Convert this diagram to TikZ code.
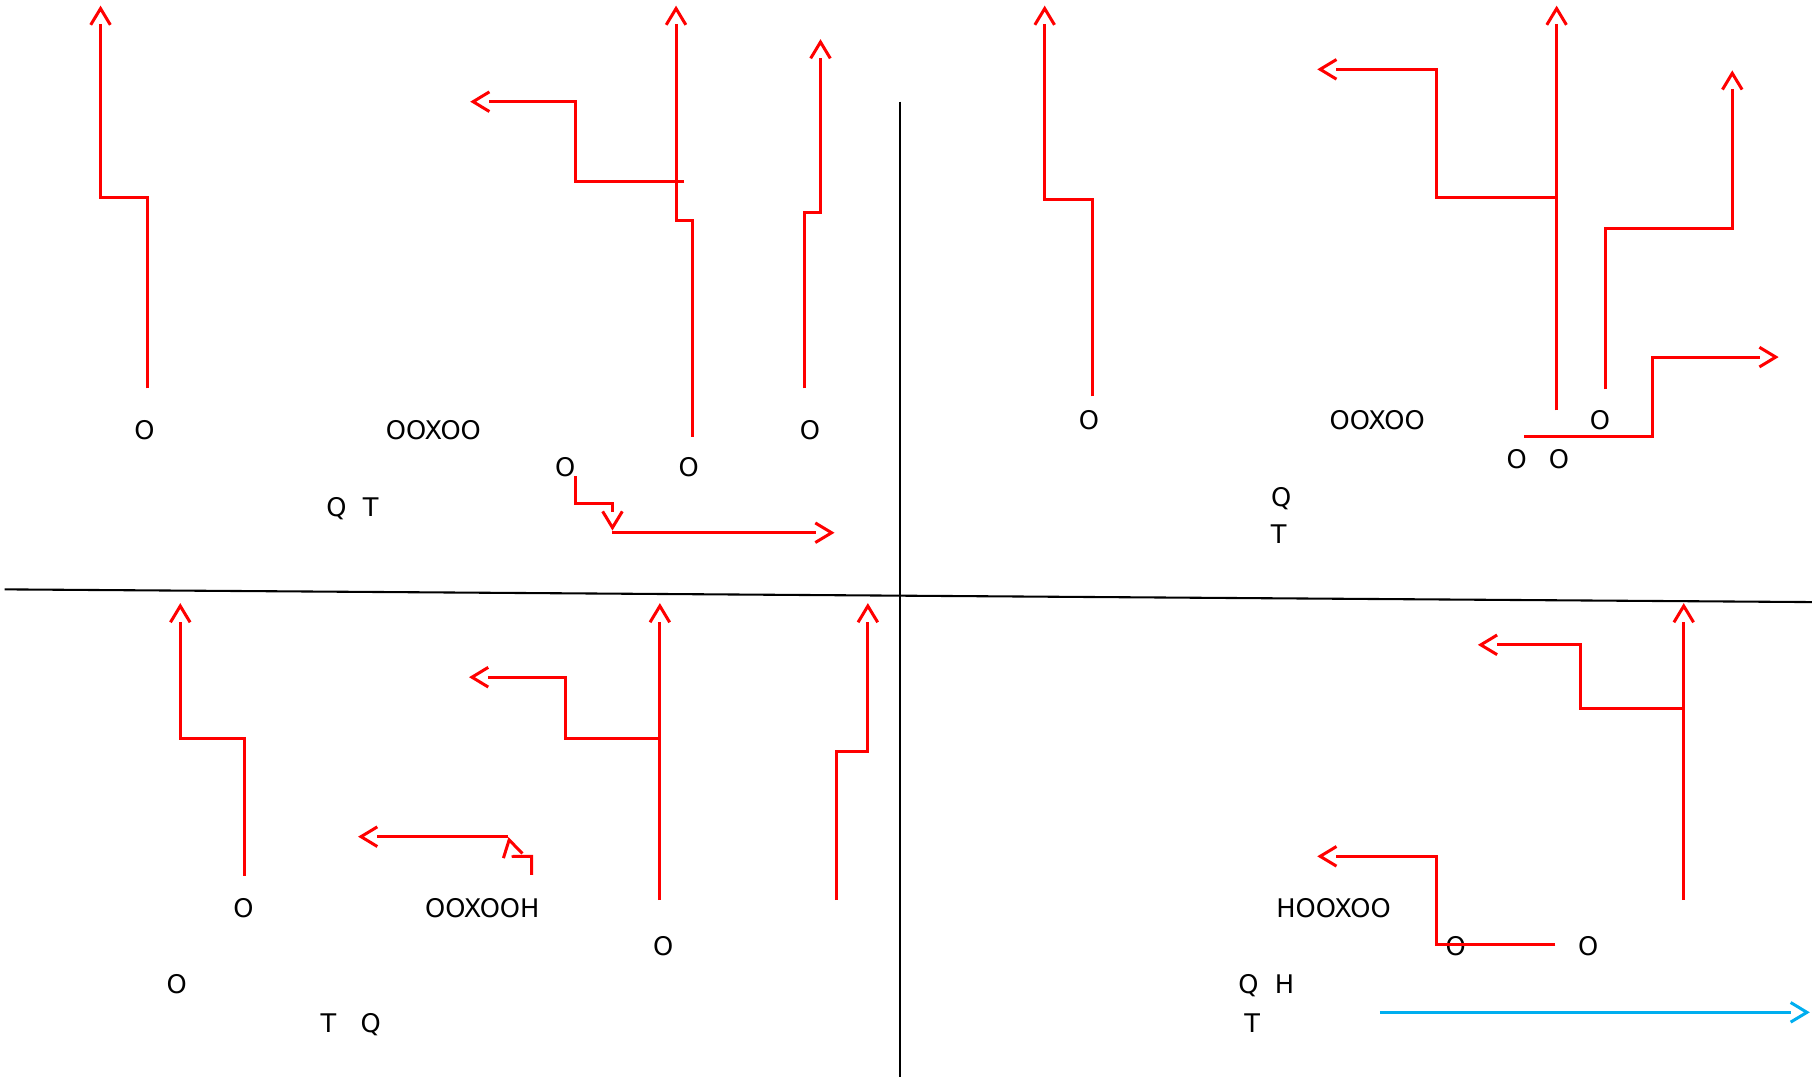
\documentclass[tikz,border=0pt]{standalone}
\usepackage{fontspec}
\setmainfont{DejaVu Sans}
\usetikzlibrary{arrows.meta,decorations.markings}
\definecolor{arrowblue}{HTML}{00AEEF}
\begin{document}
\begin{tikzpicture}[x=1pt,y=-1pt,
  redline/.style={draw=red, line width=2.6pt, line join=miter},
  vtip/.style={shorten >=16pt,
    postaction={decorate, decoration={markings, mark=at position 1 with {
      \draw[#1, line width=2.6pt, line join=miter, line cap=butt, shorten >=0pt, shorten <=0pt]
        (-16.5pt,8.5pt) -- (-2.4pt,0pt) -- (-16.5pt,-8.5pt);}}}},
  redarrow/.style={redline, vtip=red},
  bluearrow/.style={draw=arrowblue, line width=2.6pt, vtip=arrowblue},
  blackline/.style={draw=black, line width=1.8pt},
  lbl/.style={font=\fontsize{22.2}{26}\selectfont, inner sep=0pt, anchor=base},
]
\useasboundingbox (0,0) rectangle (1568,932);

% axes
\coordinate (hL) at (4,510);
\coordinate (hR) at (1568,521);
\coordinate (vT) at (779,88);
\coordinate (vB) at (779,932);
\draw[blackline] (hL) -- (hR);
\draw[blackline] (vT) -- (vB);

% ---------- labels ----------
% top-left
\node[lbl] (t1) at (125,380.5) {O};
\node[lbl] (t2) at (375,380.5) {OOXOO};
\node[lbl] (t3) at (701,380.5) {O};
\node[lbl] (t4) at (489,412.7) {O};
\node[lbl] (t5) at (596,412.7) {O};
\node[lbl] (t6) at (305,446.8) {Q~~T};
% top-right
\node[lbl] (u1) at (942.4,371.6) {O};
\node[lbl] (u2) at (1191.7,371.6) {OOXOO};
\node[lbl] (u3) at (1384.5,371.6) {O};
\node[lbl] (u4) at (1312.4,405.4) {O};
\node[lbl] (u5) at (1349,405.4) {O};
\node[lbl] (u6) at (1108.6,438.5) {Q};
\node[lbl] (u7) at (1106.6,470.7) {T};
% bottom-left
\node[lbl] (v1) at (210.6,794) {O};
\node[lbl] (v2) at (417.3,794) {OOXOOH};
\node[lbl] (v3) at (573.8,826.7) {O};
\node[lbl] (v4) at (153,859.5) {O};
\node[lbl] (v5) at (303.5,893.6) {T~~~Q};
% bottom-right
\node[lbl] (w1) at (1154,794) {HOOXOO};
\node[lbl] (w2) at (1259.6,826.7) {O};
\node[lbl] (w3) at (1374.4,826.7) {O};
\node[lbl] (w4) at (1095.8,859.5) {Q~~H};
\node[lbl] (w5) at (1083.5,893.6) {T};

% ---------- top-left connectors ----------
\coordinate (a1s) at (128,336);   \coordinate (a1e) at (87,5);
\draw[redarrow] (a1s) -- (128,171) -- (87,171) -- (a1e);
\coordinate (a2s) at (592,157);   \coordinate (a2e) at (407,88);
\draw[redarrow] (a2s) -- (498,157) -- (498,88) -- (a2e);
\coordinate (a3s) at (599,378);   \coordinate (a3e) at (585,5);
\draw[redarrow] (a3s) -- (599,191) -- (585,191) -- (a3e);
\coordinate (a4s) at (696,336);   \coordinate (a4e) at (710,34);
\draw[redarrow] (a4s) -- (696,184) -- (710,184) -- (a4e);
\coordinate (a5s) at (498,412);   \coordinate (a5e) at (530,459);
\draw[redarrow] (a5s) -- (498,436) -- (530,436) -- (a5e);
\coordinate (a6s) at (530,461);   \coordinate (a6e) at (722,461);
\draw[redarrow] (a6s) -- (a6e);

% ---------- top-right connectors ----------
\coordinate (b1s) at (945,343);   \coordinate (b1e) at (904,5);
\draw[redarrow] (b1s) -- (945,173) -- (904,173) -- (b1e);
\coordinate (b2s) at (1347,355);  \coordinate (b2e) at (1347,5);
\draw[redarrow] (b2s) -- (b2e);
\coordinate (b3s) at (1347,171);  \coordinate (b3e) at (1140,60);
\draw[redarrow] (b3s) -- (1243,171) -- (1243,60) -- (b3e);
\coordinate (b4s) at (1389,337);  \coordinate (b4e) at (1499,61);
\draw[redarrow] (b4s) -- (1389,198) -- (1499,198) -- (b4e);
\coordinate (b5s) at (1319,378);  \coordinate (b5e) at (1539,309);
\draw[redarrow] (b5s) -- (1430,378) -- (1430,309) -- (b5e);

% ---------- bottom-left connectors ----------
\coordinate (c1s) at (212,758);   \coordinate (c1e) at (156,522);
\draw[redarrow] (c1s) -- (212,639) -- (156,639) -- (c1e);
\coordinate (c2s) at (571,779);   \coordinate (c2e) at (571,522);
\draw[redarrow] (c2s) -- (c2e);
\coordinate (c3s) at (571,639);   \coordinate (c3e) at (406,586);
\draw[redarrow] (c3s) -- (489,639) -- (489,586) -- (c3e);
\coordinate (c4s) at (724,779);   \coordinate (c4e) at (751,522);
\draw[redarrow] (c4s) -- (724,650) -- (751,650) -- (c4e);
\coordinate (c5s) at (460,757);   \coordinate (c5e) at (440,724.5);
\draw[redarrow] (c5s) -- (460,741) -- (444,741) -- (c5e);
\coordinate (c6s) at (440,724);   \coordinate (c6e) at (310,724);
\draw[redarrow] (c6s) -- (c6e);

% ---------- bottom-right connectors ----------
\coordinate (d1s) at (1457,779);  \coordinate (d1e) at (1457,522);
\draw[redarrow] (d1s) -- (d1e);
\coordinate (d2s) at (1457,613);  \coordinate (d2e) at (1279,558);
\draw[redarrow] (d2s) -- (1368,613) -- (1368,558) -- (d2e);
\coordinate (d3s) at (1346,817);  \coordinate (d3e) at (1140,741);
\draw[redarrow] (d3s) -- (1243,817) -- (1243,741) -- (d3e);
\coordinate (d4s) at (1194,876);  \coordinate (d4e) at (1566,876);
\draw[bluearrow] (d4s) -- (d4e);
\end{tikzpicture}
\end{document}
